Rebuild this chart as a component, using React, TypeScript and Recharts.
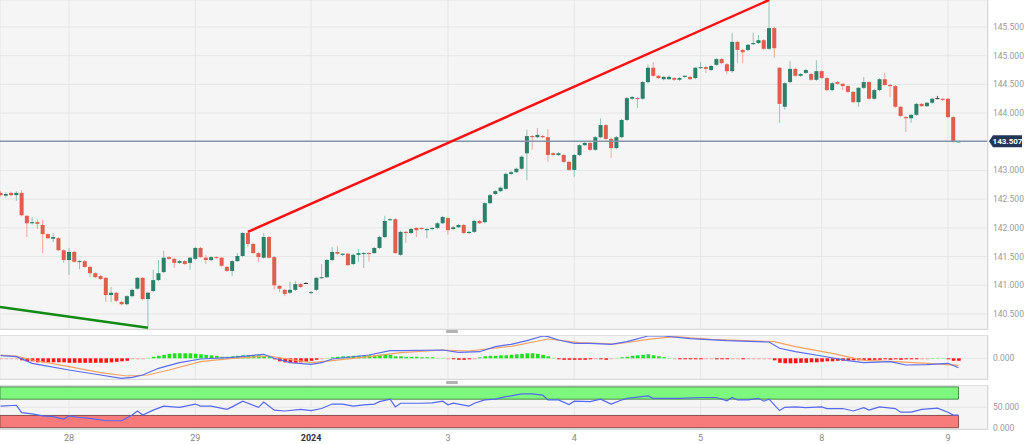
import React from "react";
import {
  ComposedChart,
  Bar,
  Line,
  XAxis,
  YAxis,
  CartesianGrid,
  ReferenceLine,
  ReferenceArea,
} from "recharts";

// x axis: one slot per hourly candle
const X_MIN = -0.11;
const X_MAX = 187.6;
const DAY_TICKS = [13, 37, 59, 85, 109, 133, 156, 180];
const DAY_LABELS = ["28", "29", "2024", "3", "4", "5", "8", "9"];

// 143.500 sits under the last-price tag, so it is not labelled
const PRICE_TICKS = [140.5, 141, 141.5, 142, 142.5, 143, 144, 144.5, 145, 145.5];
const LAST_PRICE = 143.507;

// [open, high, low, close]
const CANDLES: [number, number, number, number][] = [
  [142.61, 142.64, 142.54, 142.57], [142.56, 142.62, 142.53, 142.59], [142.61, 142.63, 142.55, 142.57],
  [142.57, 142.64, 142.47, 142.61], [142.61, 142.66, 142.20, 142.22], [142.21, 142.22, 141.84, 142.08],
  [142.08, 142.19, 142.06, 142.10], [142.10, 142.15, 141.98, 142.07], [142.05, 142.14, 141.56, 141.89],
  [141.89, 141.91, 141.80, 141.82], [141.81, 141.91, 141.75, 141.84], [141.82, 141.84, 141.60, 141.61],
  [141.61, 141.63, 141.39, 141.44], [141.44, 141.65, 141.18, 141.58], [141.58, 141.60, 141.39, 141.41],
  [141.41, 141.44, 141.28, 141.42], [141.42, 141.44, 141.30, 141.32], [141.32, 141.34, 141.14, 141.21],
  [141.21, 141.23, 141.13, 141.14], [141.16, 141.18, 141.09, 141.11], [141.13, 141.14, 140.71, 140.83],
  [140.83, 140.97, 140.71, 140.87], [140.87, 140.88, 140.71, 140.73], [140.71, 140.73, 140.65, 140.67],
  [140.67, 140.83, 140.65, 140.81], [140.81, 140.94, 140.79, 140.92], [140.94, 141.14, 140.92, 141.13],
  [141.13, 141.14, 140.74, 140.76], [140.76, 140.88, 140.26, 140.87], [140.90, 141.27, 140.88, 141.09],
  [141.09, 141.44, 141.07, 141.21], [141.23, 141.60, 141.21, 141.48], [141.49, 141.51, 141.44, 141.46],
  [141.46, 141.48, 141.30, 141.39], [141.39, 141.44, 141.37, 141.42], [141.42, 141.44, 141.35, 141.37],
  [141.39, 141.49, 141.27, 141.48], [141.46, 141.67, 141.44, 141.65], [141.65, 141.67, 141.48, 141.49],
  [141.48, 141.53, 141.37, 141.44], [141.44, 141.51, 141.42, 141.49], [141.49, 141.51, 141.46, 141.48],
  [141.48, 141.49, 141.32, 141.34], [141.32, 141.34, 141.23, 141.25], [141.25, 141.44, 141.16, 141.42],
  [141.42, 141.56, 141.41, 141.51], [141.51, 141.93, 141.49, 141.91], [141.91, 141.93, 141.67, 141.72],
  [141.72, 141.74, 141.55, 141.56], [141.56, 141.58, 141.41, 141.49], [141.48, 141.91, 141.46, 141.84],
  [141.84, 141.86, 141.46, 141.48], [141.49, 141.51, 140.92, 141.00], [140.99, 141.00, 140.88, 140.94],
  [140.92, 140.94, 140.81, 140.85], [140.87, 141.06, 140.85, 140.92], [140.92, 141.07, 140.90, 141.02],
  [141.02, 141.04, 140.95, 140.97], [141.04, 141.05, 141.03, 141.04], [140.87, 140.90, 140.85, 140.88],
  [140.92, 141.14, 140.90, 141.13], [141.13, 141.37, 141.11, 141.14], [141.14, 141.46, 141.13, 141.44],
  [141.44, 141.67, 141.42, 141.58], [141.58, 141.68, 141.53, 141.55], [141.53, 141.56, 141.51, 141.55],
  [141.55, 141.56, 141.34, 141.35], [141.37, 141.55, 141.35, 141.53], [141.53, 141.63, 141.41, 141.56],
  [141.55, 141.58, 141.30, 141.56], [141.56, 141.58, 141.41, 141.55], [141.56, 141.67, 141.55, 141.65],
  [141.65, 141.86, 141.63, 141.84], [141.84, 142.21, 141.82, 142.12], [142.14, 142.17, 142.12, 142.15],
  [142.15, 142.17, 141.55, 141.56], [141.53, 141.95, 141.51, 141.93], [141.93, 141.95, 141.74, 141.91],
  [141.91, 142.00, 141.89, 141.98], [142.00, 142.01, 141.84, 141.96], [142.00, 142.01, 141.96, 141.98],
  [141.96, 142.00, 141.82, 141.98], [141.98, 142.01, 141.96, 142.00], [142.00, 142.10, 141.98, 142.08],
  [142.08, 142.21, 142.07, 142.19], [142.17, 142.19, 141.88, 141.96], [141.98, 142.03, 141.96, 142.01],
  [142.01, 142.07, 142.00, 142.05], [142.05, 142.07, 141.89, 141.91], [141.91, 141.95, 141.89, 141.93],
  [141.93, 142.14, 141.91, 142.12], [142.12, 142.14, 142.07, 142.08], [142.10, 142.45, 142.08, 142.43],
  [142.43, 142.59, 142.42, 142.57], [142.59, 142.66, 142.57, 142.64], [142.64, 142.72, 142.62, 142.70],
  [142.68, 142.96, 142.66, 142.94], [142.94, 143.00, 142.92, 142.97], [142.97, 143.05, 142.96, 143.03],
  [143.03, 143.26, 143.01, 143.24], [143.30, 143.71, 142.83, 143.60], [143.60, 143.62, 143.36, 143.58],
  [143.58, 143.74, 143.56, 143.62], [143.60, 143.62, 143.56, 143.58], [143.58, 143.72, 143.15, 143.27],
  [143.30, 143.32, 143.25, 143.27], [143.27, 143.32, 143.25, 143.30], [143.27, 143.29, 143.13, 143.15],
  [143.15, 143.17, 142.99, 143.01], [143.01, 143.29, 142.89, 143.27], [143.27, 143.46, 143.25, 143.44],
  [143.44, 143.50, 143.43, 143.48], [143.48, 143.50, 143.34, 143.36], [143.36, 143.60, 143.34, 143.58],
  [143.58, 143.91, 143.56, 143.79], [143.79, 143.81, 143.53, 143.55], [143.55, 143.57, 143.22, 143.39],
  [143.39, 143.60, 143.37, 143.58], [143.58, 143.90, 143.56, 143.88], [143.88, 144.28, 143.86, 144.26],
  [144.25, 144.30, 144.23, 144.28], [144.26, 144.28, 144.09, 144.25], [144.25, 144.56, 144.23, 144.54],
  [144.54, 144.85, 144.52, 144.79], [144.79, 144.89, 144.63, 144.65], [144.65, 144.66, 144.59, 144.61],
  [144.59, 144.65, 144.57, 144.63], [144.59, 144.66, 144.58, 144.63], [144.61, 144.63, 144.56, 144.58],
  [144.58, 144.63, 144.56, 144.61], [144.63, 144.66, 144.61, 144.65], [144.63, 144.65, 144.58, 144.59],
  [144.61, 144.80, 144.59, 144.79], [144.79, 144.89, 144.77, 144.80], [144.80, 144.82, 144.70, 144.77],
  [144.75, 144.84, 144.73, 144.82], [144.84, 144.96, 144.82, 144.94], [144.94, 144.96, 144.85, 144.87],
  [144.85, 144.87, 144.68, 144.73], [144.73, 145.40, 144.70, 145.24], [145.24, 145.26, 144.87, 145.10],
  [145.10, 145.12, 144.87, 145.06], [145.10, 145.20, 145.08, 145.19], [145.20, 145.40, 145.19, 145.22],
  [145.22, 145.36, 145.20, 145.27], [145.27, 145.29, 145.10, 145.12], [145.12, 145.97, 145.10, 145.48],
  [145.48, 145.50, 144.96, 145.13], [144.79, 144.80, 143.83, 144.16], [144.11, 144.54, 144.06, 144.52],
  [144.54, 144.91, 144.52, 144.77], [144.77, 144.79, 144.63, 144.65], [144.65, 144.70, 144.63, 144.68],
  [144.70, 144.77, 144.68, 144.75], [144.68, 144.70, 144.56, 144.58], [144.58, 144.92, 144.56, 144.73],
  [144.73, 144.75, 144.59, 144.61], [144.61, 144.63, 144.38, 144.40], [144.40, 144.54, 144.38, 144.52],
  [144.54, 144.56, 144.49, 144.51], [144.51, 144.52, 144.40, 144.47], [144.47, 144.49, 144.35, 144.37],
  [144.37, 144.38, 144.18, 144.19], [144.19, 144.45, 144.11, 144.44], [144.44, 144.63, 144.42, 144.54],
  [144.54, 144.56, 144.23, 144.25], [144.25, 144.42, 144.23, 144.40], [144.40, 144.61, 144.38, 144.59],
  [144.59, 144.70, 144.47, 144.49], [144.49, 144.51, 144.28, 144.47], [144.47, 144.49, 144.09, 144.11],
  [144.11, 144.12, 143.93, 143.95], [143.93, 143.95, 143.67, 143.91], [143.91, 143.98, 143.83, 143.97],
  [143.97, 144.18, 143.95, 144.16], [144.16, 144.18, 144.11, 144.12], [144.12, 144.19, 144.11, 144.18],
  [144.18, 144.26, 144.16, 144.25], [144.26, 144.30, 144.25, 144.26], [144.25, 144.26, 144.21, 144.23],
  [144.25, 144.26, 143.91, 143.93], [143.93, 143.95, 143.48, 143.51], [143.50, 143.52, 143.49, 143.507],
];

// MACD histogram, one bar per candle
const MACD_HIST = [
  -0.005, -0.005, -0.005, -0.005, -0.02, -0.03, -0.03, -0.04, -0.04, -0.04,
  -0.04, -0.04, -0.04, -0.045, -0.045, -0.045, -0.045, -0.045, -0.045, -0.045,
  -0.045, -0.04, -0.035, -0.03, -0.025, -0.005, -0.005, -0.005, 0.005, 0.015,
  0.025, 0.035, 0.045, 0.05, 0.05, 0.05, 0.05, 0.045, 0.04, 0.035,
  0.03, 0.025, 0.015, 0.015, 0.02, 0.025, 0.03, 0.03, 0.03, 0.03,
  0.025, 0.01, -0.01, -0.03, -0.04, -0.045, -0.045, -0.04, -0.035, -0.025,
  -0.015, -0.005, 0.005, 0.01, 0.015, 0.02, 0.02, 0.025, 0.025, 0.025,
  0.03, 0.03, 0.035, 0.04, 0.035, 0.02, 0.02, 0.015, 0.015, 0.015,
  0.01, 0.01, 0.01, 0.005, 0.005, -0.005, -0.01, -0.015, -0.015, -0.01,
  -0.005, 0.01, 0.02, 0.025, 0.025, 0.03, 0.03, 0.035, 0.04, 0.045,
  0.05, 0.05, 0.045, 0.035, 0.02, 0.005, -0.01, -0.015, -0.015, -0.015,
  -0.015, -0.015, -0.01, -0.005, -0.01, -0.015, -0.005, 0.005, 0.01, 0.015,
  0.025, 0.03, 0.035, 0.04, 0.03, 0.02, 0.01, 0.005, -0.005, -0.01,
  -0.01, -0.01, -0.01, -0.01, -0.005, -0.005, -0.01, -0.01, -0.01, -0.005,
  -0.005, -0.01, -0.005, -0.005, -0.005, -0.005, -0.005, -0.02, -0.045, -0.05,
  -0.05, -0.05, -0.045, -0.045, -0.04, -0.04, -0.035, -0.03, -0.03, -0.025,
  -0.025, -0.025, -0.02, -0.02, -0.015, -0.02, -0.015, -0.015, -0.01, -0.015,
  -0.01, -0.015, -0.01, -0.01, -0.01, -0.005, -0.005, 0.003, 0.005, 0.003,
  -0.01, -0.025, -0.025,
];

// [candle index, value]
const MACD_LINE: [number, number][] = [
  [0, 0.026], [3, 0.016], [6, -0.05], [13, -0.117], [19, -0.167], [23, -0.2], [25, -0.19],
  [27, -0.167], [30, -0.1], [34, -0.044], [38, -0.007], [44, 0.01], [48, 0.03], [50, 0.04],
  [52, 0], [55, -0.044], [59, -0.06], [61, -0.044], [63, -0.007], [70, 0.033], [74, 0.076],
  [76, 0.076], [84, 0.083], [87, 0.06], [91, 0.066], [94, 0.116], [97, 0.14], [100, 0.176],
  [103, 0.223], [104, 0.216], [106, 0.183], [109, 0.15], [112, 0.15], [116, 0.14], [119, 0.166],
  [123, 0.223], [126, 0.223], [131, 0.196], [138, 0.176], [146, 0.163], [148, 0.1], [151, 0.066],
  [156, 0.023], [161, -0.024], [164, -0.044], [169, -0.034], [172, -0.067], [176, -0.064],
  [180, -0.05], [182, -0.094],
];

const SIGNAL_LINE: [number, number][] = [
  [0, 0.033], [3, 0.023], [6, -0.017], [13, -0.084], [19, -0.144], [24, -0.177], [28, -0.167],
  [32, -0.117], [38, -0.034], [44, 0], [51, 0.023], [55, -0.01], [59, -0.044], [63, -0.024],
  [70, 0.016], [76, 0.056], [84, 0.083], [89, 0.073], [97, 0.12], [104, 0.193], [110, 0.156],
  [117, 0.143], [123, 0.19], [128, 0.216], [135, 0.19], [147, 0.166], [151, 0.116], [158, 0.05],
  [164, -0.02], [170, -0.034], [176, -0.05], [182, -0.07],
];

const RSI_LINE: [number, number][] = [
  [0, 53], [3, 55], [4, 37], [6, 34], [8, 29], [10, 27], [12, 21], [13, 29], [15, 25], [17, 23],
  [20, 17], [23, 17], [25, 31], [26, 41], [27, 31], [29, 43], [31, 53], [34, 50], [37, 58],
  [38, 53], [40, 53], [43, 45], [44, 51], [46, 65], [49, 50], [50, 63], [52, 43], [54, 41],
  [57, 45], [59, 42], [61, 47], [63, 58], [65, 58], [67, 53], [69, 56], [71, 58], [72, 64],
  [74, 70], [75, 51], [76, 60], [80, 60], [82, 61], [84, 65], [85, 56], [86, 60], [89, 53],
  [90, 60], [92, 68], [94, 70], [96, 76], [97, 78], [99, 83], [101, 83], [103, 80], [104, 68],
  [106, 68], [108, 57], [109, 65], [112, 64], [114, 70], [116, 58], [118, 68], [119, 72],
  [123, 78], [124, 72], [129, 72], [133, 74], [136, 74], [138, 66], [139, 74], [140, 68],
  [142, 68], [144, 72], [145, 65], [146, 70], [148, 42], [149, 50], [151, 51], [153, 49],
  [156, 51], [157, 47], [160, 47], [162, 41], [164, 49], [165, 43], [167, 51], [170, 47],
  [171, 38], [173, 38], [175, 45], [178, 48], [180, 38], [181, 31], [182, 31],
];

const RED_TREND: [number, number][] = [[47, 141.93], [146, 145.97]];
const GREEN_TREND: [number, number][] = [[-0.11, 140.62], [28, 140.26]];

const FONT = "Roboto, 'Open Sans', sans-serif";
const PANE_BG = "#f5f5f5";
const GRID = "#e6e6e6";

const candleData = CANDLES.map(([o, h, l, c], i) => ({ i, o, h, l, c, range: [l, h] }));
const histData = MACD_HIST.map((h, i) => ({ i, h }));
const pts = (arr: [number, number][]) => arr.map(([i, v]) => ({ i, v }));

function Candle(props: any) {
  const { x, y, width, height, payload } = props;
  if (x == null || !payload) return null;
  const { o, h, l, c } = payload;
  const top = Math.min(y, y + height);
  const hgt = Math.abs(height);
  const ppu = h > l ? hgt / (h - l) : 0;
  const yO = top + (h - o) * ppu;
  const yC = top + (h - c) * ppu;
  const flat = Math.abs(c - o) < 0.001;
  const up = c > o;
  const body = flat ? "#333" : up ? "#2b8069" : "#df5e4e";
  const wick = flat ? "#555" : up ? "#93c4b6" : "#eea89d";
  const cx = x + width / 2;
  return (
    <g>
      <line x1={cx} x2={cx} y1={top} y2={top + hgt} stroke={wick} strokeWidth={1} />
      <rect x={cx - 2} y={Math.min(yO, yC)} width={4} height={Math.max(1, Math.abs(yC - yO))} fill={body} />
    </g>
  );
}

function HistBar(props: any) {
  const { x, y, width, height, payload } = props;
  if (x == null || !payload) return null;
  const v = payload.h;
  const fill = v >= 0 ? (v <= 0.005 ? "#a4f0a4" : "#1ee01e") : v >= -0.005 ? "#f5a6a6" : "#ff1414";
  return (
    <rect
      x={x + width / 2 - 1.8}
      y={Math.min(y, y + height)}
      width={3.6}
      height={Math.max(1, Math.abs(height))}
      fill={fill}
    />
  );
}

function PriceTag(props: any) {
  const { viewBox } = props;
  if (!viewBox) return null;
  const x0 = viewBox.x + viewBox.width + 1;
  const yc = viewBox.y;
  return (
    <g>
      <path
        d={`M${x0} ${yc} L${x0 + 4} ${yc - 6} L${x0 + 33} ${yc - 6} L${x0 + 33} ${yc + 6} L${x0 + 4} ${yc + 6} Z`}
        fill="#22365a"
      />
      <text x={x0 + 18.5} y={yc + 3} textAnchor="middle" fontSize={8} fontWeight={700} fill="#fff" fontFamily={FONT}>
        {LAST_PRICE.toFixed(3)}
      </text>
    </g>
  );
}

function DayTick(props: any) {
  const { x, y, payload } = props;
  const label = DAY_LABELS[DAY_TICKS.indexOf(payload.value)];
  const bold = label === "2024";
  return (
    <text
      x={x}
      y={y}
      dy={8}
      textAnchor="middle"
      fontSize={9}
      fontFamily={FONT}
      fill={bold ? "#333" : "#888"}
      fontWeight={bold ? 700 : 400}
    >
      {label}
    </text>
  );
}

const yTick = { fontSize: 8.5, fill: "#9a9a9a", fontFamily: FONT };

function Pane({ top, height }: { top: number; height: number }) {
  return (
    <div
      style={{
        position: "absolute",
        left: 0,
        top,
        width: 988,
        height,
        boxSizing: "border-box",
        borderRight: "1px solid #d9d9d9",
        borderTop: top > 0 ? "1px solid #e0e0e0" : "none",
        borderBottom: "1px solid #d9d9d9",
        pointerEvents: "none",
      }}
    />
  );
}

function Handle({ top }: { top: number }) {
  return (
    <div style={{ position: "absolute", left: 446, top, width: 12, height: 3, background: "#b3b3b3", borderRadius: 1 }} />
  );
}

export default function App() {
  const xAxisProps = {
    dataKey: "i",
    type: "number" as const,
    domain: [X_MIN, X_MAX],
    ticks: DAY_TICKS,
    allowDataOverflow: true,
  };
  const yAxisCommon = {
    orientation: "right" as const,
    width: 36,
    allowDataOverflow: true,
    tickFormatter: (v: number) => v.toFixed(3),
    tick: yTick,
    tickLine: false,
    axisLine: false,
    tickSize: 0,
    tickMargin: 5,
  };

  return (
    <div style={{ position: "fixed", left: 0, top: 0, width: 1024, height: 444, background: "#fff", overflow: "hidden" }}>
      {/* price pane */}
      <div style={{ position: "absolute", left: 0, top: 0 }}>
        <ComposedChart width={1024} height={329} data={candleData} margin={{ top: 0, right: 0, bottom: 0, left: 0 }}>
          <CartesianGrid stroke={GRID} fill={PANE_BG} />
          <XAxis {...xAxisProps} hide />
          <YAxis {...yAxisCommon} domain={[140.238, 145.97]} ticks={PRICE_TICKS} />
          <ReferenceLine y={LAST_PRICE} stroke="#8495aa" strokeWidth={1.5} label={<PriceTag />} />
          <Bar dataKey="range" barSize={4} shape={<Candle />} isAnimationActive={false} />
          <Line data={pts(RED_TREND)} dataKey="v" stroke="#ff1010" strokeWidth={2.5} dot={false} isAnimationActive={false} />
          <Line data={pts(GREEN_TREND)} dataKey="v" stroke="#138a13" strokeWidth={2.5} dot={false} isAnimationActive={false} />
        </ComposedChart>
      </div>

      {/* MACD pane */}
      <div style={{ position: "absolute", left: 0, top: 335 }}>
        <ComposedChart width={1024} height={44} data={histData} margin={{ top: 0, right: 0, bottom: 0, left: 0 }}>
          <CartesianGrid stroke={GRID} fill={PANE_BG} />
          <XAxis {...xAxisProps} hide />
          <YAxis {...yAxisCommon} domain={[-0.207, 0.233]} ticks={[0]} />
          <Bar dataKey="h" barSize={4} shape={<HistBar />} isAnimationActive={false} />
          <Line data={pts(SIGNAL_LINE)} dataKey="v" stroke="#f5a262" strokeWidth={1.2} dot={false} isAnimationActive={false} />
          <Line data={pts(MACD_LINE)} dataKey="v" stroke="#5b6cf2" strokeWidth={1.2} dot={false} isAnimationActive={false} />
        </ComposedChart>
      </div>

      {/* RSI pane */}
      <div style={{ position: "absolute", left: 0, top: 385 }}>
        <ComposedChart width={1024} height={59} data={candleData} margin={{ top: 0, right: 0, bottom: 0, left: 0 }}>
          <CartesianGrid stroke={GRID} fill={PANE_BG} />
          <XAxis
            {...xAxisProps}
            height={15}
            tick={<DayTick />}
            tickLine={false}
            axisLine={false}
            tickSize={0}
            tickMargin={4}
            interval={0}
          />
          <YAxis {...yAxisCommon} domain={[-3.2, 104.7]} ticks={[0, 50]} />
          <ReferenceArea x1={X_MIN} x2={182} y1={70} y2={100} fill="#7df77d" fillOpacity={1} stroke="#4f8a4f" strokeWidth={1} />
          <ReferenceArea x1={X_MIN} x2={182} y1={0} y2={30} fill="#f87b7b" fillOpacity={1} stroke="#8a4f4f" strokeWidth={1} />
          <Line data={pts(RSI_LINE)} dataKey="v" stroke="#5468f0" strokeWidth={1.2} dot={false} isAnimationActive={false} />
        </ComposedChart>
      </div>

      <Pane top={0} height={330} />
      <Pane top={335} height={45} />
      <Pane top={385} height={45} />
      <Handle top={330} />
      <Handle top={381} />
    </div>
  );
}
